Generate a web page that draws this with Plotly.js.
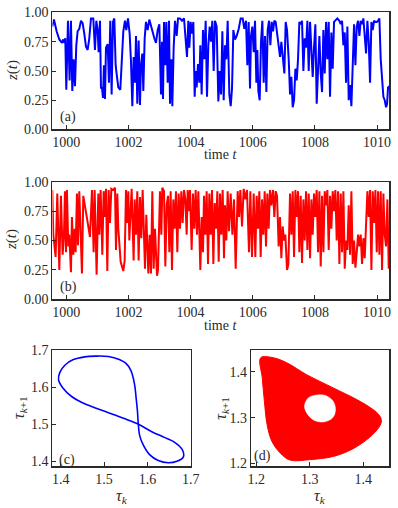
<!DOCTYPE html>
<html>
<head>
<meta charset="utf-8">
<script src="https://cdn.plot.ly/plotly-3.0.1.min.js"></script>
<style>
  html, body { margin: 0; padding: 0; background: #fff; }
  #fig { width: 398px; height: 508px; }
</style>
</head>
<body>
<div id="fig"></div>
<script>
// (a) z(t), first oscillator (local extrema)
var timeA = [999.549,999.603,999.689,999.775,999.861,999.903,999.936,999.968,1000.000,1000.054,
  1000.107,1000.150,1000.193,1000.236,1000.279,1000.322,1000.365,1000.418,1000.472,1000.526,
  1000.579,1000.633,1000.687,1000.740,1000.794,1000.869,1000.923,1000.966,1001.009,1001.041,
  1001.084,1001.116,1001.148,1001.180,1001.212,1001.245,1001.277,1001.331,1001.373,1001.416,
  1001.459,1001.502,1001.545,1001.588,1001.631,1001.674,1001.738,1001.792,1001.835,1001.888,
  1001.931,1001.985,1002.039,1002.082,1002.125,1002.167,1002.210,1002.243,1002.285,1002.328,
  1002.371,1002.404,1002.446,1002.479,1002.522,1002.564,1002.618,1002.672,1002.725,1002.779,
  1002.833,1002.886,1002.940,1002.994,1003.047,1003.080,1003.112,1003.144,1003.187,1003.219,
  1003.262,1003.305,1003.337,1003.380,1003.412,1003.455,1003.498,1003.552,1003.595,1003.659,
  1003.723,1003.788,1003.841,1003.884,1003.927,1003.959,1004.002,1004.045,1004.088,1004.131,
  1004.163,1004.195,1004.238,1004.281,1004.313,1004.356,1004.399,1004.442,1004.485,1004.528,
  1004.571,1004.614,1004.657,1004.700,1004.743,1004.786,1004.839,1004.893,1004.936,1004.979,
  1005.022,1005.065,1005.107,1005.150,1005.193,1005.247,1005.290,1005.333,1005.376,1005.429,
  1005.483,1005.547,1005.612,1005.676,1005.730,1005.783,1005.826,1005.869,1005.912,1005.944,
  1005.987,1006.030,1006.073,1006.116,1006.148,1006.180,1006.223,1006.266,1006.309,1006.352,
  1006.395,1006.438,1006.481,1006.524,1006.567,1006.610,1006.653,1006.696,1006.738,1006.792,
  1006.835,1006.878,1006.921,1006.975,1007.017,1007.060,1007.103,1007.157,1007.200,1007.243,
  1007.286,1007.329,1007.372,1007.414,1007.457,1007.500,1007.543,1007.586,1007.629,1007.672,
  1007.715,1007.758,1007.801,1007.844,1007.887,1007.929,1007.972,1008.015,1008.058,1008.101,
  1008.144,1008.187,1008.230,1008.273,1008.316,1008.359,1008.401,1008.444,1008.487,1008.530,
  1008.573,1008.616,1008.659,1008.723,1008.788,1008.831,1008.874,1008.917,1008.960,1009.002,
  1009.045,1009.088,1009.131,1009.174,1009.217,1009.260,1009.303,1009.346,1009.389,1009.432,
  1009.474,1009.517,1009.560,1009.603,1009.646,1009.689,1009.732,1009.775,1009.818,1009.861,
  1009.904,1009.947,1009.990,1010.033,1010.075,1010.118,1010.161,1010.204,1010.247,1010.290,
  1010.322,1010.354,1010.397];
var zA = [0.88,0.94,0.84,0.77,0.74,0.77,0.74,0.78,0.34,0.93,
  0.42,0.93,0.33,0.60,0.37,0.72,0.84,0.86,0.93,0.91,
  0.82,0.71,0.68,0.78,0.95,0.95,0.68,0.93,0.85,0.66,
  0.93,0.35,0.36,0.27,0.55,0.26,0.70,0.73,0.40,0.93,
  0.30,0.92,0.95,0.55,0.45,0.36,0.34,0.60,0.84,0.93,
  0.85,0.95,0.82,0.58,0.20,0.62,0.40,0.80,0.22,0.76,
  0.21,0.55,0.65,0.33,0.78,0.92,0.85,0.94,0.88,0.82,
  0.78,0.74,0.85,0.90,0.30,0.75,0.26,0.92,0.55,0.92,
  0.40,0.93,0.22,0.60,0.20,0.70,0.93,0.80,0.95,0.95,
  0.93,0.95,0.80,0.62,0.93,0.70,0.92,0.82,0.92,0.28,
  0.50,0.36,0.56,0.40,0.72,0.30,0.85,0.60,0.93,0.28,
  0.72,0.88,0.75,0.93,0.50,0.93,0.88,0.24,0.50,0.30,
  0.84,0.25,0.72,0.60,0.93,0.30,0.20,0.35,0.85,0.77,
  0.80,0.86,0.95,0.95,0.86,0.93,0.55,0.92,0.35,0.80,
  0.88,0.66,0.93,0.40,0.68,0.33,0.25,0.75,0.93,0.40,
  0.80,0.32,0.85,0.93,0.72,0.92,0.84,0.93,0.92,0.80,
  0.70,0.62,0.75,0.58,0.48,0.92,0.85,0.60,0.30,0.45,
  0.19,0.25,0.52,0.42,0.60,0.92,0.90,0.93,0.50,0.78,
  0.70,0.93,0.50,0.92,0.60,0.45,0.70,0.90,0.22,0.60,
  0.80,0.48,0.32,0.85,0.48,0.92,0.60,0.92,0.28,0.83,
  0.52,0.92,0.93,0.95,0.93,0.90,0.93,0.72,0.83,0.40,
  0.88,0.25,0.38,0.20,0.55,0.90,0.55,0.88,0.93,0.80,
  0.93,0.90,0.95,0.75,0.65,0.93,0.75,0.40,0.92,0.85,
  0.93,0.92,0.92,0.93,0.95,0.60,0.40,0.28,0.25,0.19,
  0.22,0.36,0.37];

// (b) z(t), second oscillator
var timeB = [999.549,999.582,999.657,999.710,999.775,999.828,999.882,999.925,999.957,999.989,
  1000.021,1000.064,1000.097,1000.150,1000.182,1000.225,1000.268,1000.300,1000.343,1000.376,
  1000.418,1000.504,1000.547,1000.633,1000.708,1000.762,1000.826,1000.880,1000.912,1000.976,
  1001.030,1001.062,1001.105,1001.159,1001.202,1001.245,1001.277,1001.320,1001.363,1001.406,
  1001.449,1001.513,1001.567,1001.599,1001.642,1001.674,1001.749,1001.835,1001.878,1001.921,
  1001.953,1001.996,1002.028,1002.103,1002.167,1002.200,1002.243,1002.285,1002.328,1002.371,
  1002.414,1002.457,1002.532,1002.575,1002.640,1002.683,1002.725,1002.768,1002.811,1002.854,
  1002.919,1002.951,1003.015,1003.058,1003.090,1003.144,1003.187,1003.230,1003.273,1003.316,
  1003.358,1003.401,1003.444,1003.487,1003.530,1003.573,1003.616,1003.659,1003.702,1003.745,
  1003.788,1003.831,1003.874,1003.906,1003.949,1003.981,1004.034,1004.077,1004.120,1004.163,
  1004.206,1004.249,1004.313,1004.356,1004.399,1004.431,1004.474,1004.517,1004.560,1004.603,
  1004.646,1004.689,1004.732,1004.775,1004.818,1004.861,1004.904,1004.947,1004.989,1005.032,
  1005.075,1005.107,1005.150,1005.193,1005.236,1005.290,1005.344,1005.397,1005.451,1005.515,
  1005.558,1005.601,1005.655,1005.708,1005.762,1005.815,1005.879,1005.922,1005.976,1006.030,
  1006.083,1006.126,1006.169,1006.212,1006.255,1006.298,1006.341,1006.384,1006.427,1006.469,
  1006.512,1006.555,1006.598,1006.652,1006.695,1006.738,1006.781,1006.834,1006.877,1006.920,
  1006.963,1007.006,1007.049,1007.103,1007.146,1007.200,1007.243,1007.286,1007.329,1007.372,
  1007.414,1007.457,1007.500,1007.543,1007.586,1007.629,1007.672,1007.715,1007.758,1007.801,
  1007.844,1007.887,1007.929,1007.972,1008.015,1008.058,1008.101,1008.144,1008.187,1008.230,
  1008.273,1008.316,1008.359,1008.401,1008.444,1008.487,1008.530,1008.573,1008.616,1008.659,
  1008.702,1008.745,1008.788,1008.831,1008.874,1008.917,1008.960,1009.002,1009.045,1009.088,
  1009.131,1009.174,1009.217,1009.260,1009.303,1009.346,1009.389,1009.432,1009.474,1009.517,
  1009.560,1009.603,1009.646,1009.689,1009.732,1009.775,1009.818,1009.861,1009.904,1009.947,
  1009.990,1010.033,1010.075,1010.118,1010.161,1010.204,1010.247,1010.290,1010.333,1010.376,
  1010.397];
var zB = [0.93,0.55,0.36,0.90,0.25,0.88,0.38,0.55,0.92,0.40,
  0.93,0.45,0.55,0.23,0.70,0.38,0.60,0.40,0.90,0.46,
  0.92,0.22,0.88,0.72,0.62,0.53,0.93,0.40,0.93,0.21,
  0.90,0.55,0.93,0.38,0.92,0.70,0.94,0.24,0.93,0.65,
  0.94,0.93,0.95,0.42,0.90,0.60,0.32,0.24,0.33,0.93,
  0.65,0.92,0.50,0.94,0.33,0.85,0.55,0.92,0.33,0.87,
  0.52,0.93,0.26,0.72,0.22,0.55,0.22,0.92,0.26,0.60,
  0.20,0.25,0.92,0.55,0.95,0.92,0.28,0.80,0.88,0.40,
  0.92,0.25,0.85,0.60,0.92,0.40,0.90,0.60,0.92,0.65,
  0.93,0.85,0.55,0.93,0.75,0.93,0.42,0.90,0.60,0.93,
  0.55,0.92,0.25,0.70,0.40,0.88,0.55,0.92,0.30,0.90,
  0.55,0.93,0.30,0.82,0.60,0.92,0.32,0.90,0.55,0.93,
  0.35,0.80,0.50,0.92,0.58,0.90,0.55,0.85,0.26,0.92,
  0.70,0.93,0.62,0.94,0.85,0.93,0.40,0.92,0.36,0.90,
  0.36,0.88,0.60,0.92,0.36,0.85,0.55,0.92,0.45,0.90,
  0.60,0.93,0.80,0.93,0.70,0.92,0.88,0.45,0.70,0.35,
  0.62,0.50,0.55,0.25,0.30,0.90,0.55,0.92,0.36,0.93,
  0.70,0.92,0.40,0.88,0.31,0.85,0.50,0.92,0.42,0.90,
  0.35,0.85,0.55,0.90,0.70,0.93,0.40,0.92,0.28,0.88,
  0.40,0.92,0.80,0.93,0.42,0.88,0.60,0.92,0.75,0.93,
  0.50,0.92,0.30,0.90,0.40,0.92,0.26,0.50,0.42,0.80,
  0.38,0.92,0.30,0.50,0.27,0.40,0.55,0.45,0.55,0.30,
  0.52,0.35,0.60,0.92,0.70,0.93,0.25,0.92,0.65,0.93,
  0.40,0.92,0.38,0.92,0.25,0.90,0.55,0.45,0.85,0.26,
  0.40];

// (c) return map tau_k -> tau_{k+1}, closed figure-eight
var tauC_k  = [1.579,1.582,1.590,1.605,1.625,1.648,1.668,1.683,1.680,1.662,1.640,1.610,1.579,1.545,
  1.513,1.480,1.450,1.425,1.405,1.395,1.398,1.410,1.428,1.455,1.480,1.510,1.535,1.550,1.562,1.570,
  1.574,1.577,1.579];
var tauC_k1 = [1.500,1.470,1.445,1.418,1.402,1.396,1.400,1.412,1.432,1.452,1.464,1.480,1.500,1.516,
  1.530,1.544,1.558,1.575,1.598,1.620,1.640,1.660,1.674,1.682,1.684,1.683,1.675,1.665,1.645,1.610,
  1.570,1.535,1.500];

// (d) return map, filled torus section: outer edge and inner hole
var tauD_out_k  = [1.208,1.232,1.257,1.294,1.344,1.387,1.418,1.430,1.434,1.430,1.412,1.381,1.344,
  1.300,1.263,1.245,1.229,1.220,1.215,1.211,1.208];
var tauD_out_k1 = [1.431,1.431,1.420,1.394,1.365,1.340,1.318,1.305,1.293,1.280,1.257,1.232,1.215,
  1.208,1.207,1.222,1.248,1.285,1.336,1.387,1.431];
var tauD_hole_k  = [1.290,1.297,1.310,1.328,1.343,1.348,1.343,1.328,1.310,1.296,1.290];
var tauD_hole_k1 = [1.325,1.343,1.349,1.349,1.337,1.318,1.300,1.291,1.293,1.307,1.325];

var serif = 'Liberation Serif';
var ink = '#2a2a2a';

function axis(extra) {
  var a = {
    showgrid: false, zeroline: false, showline: true, mirror: true,
    linecolor: ink, linewidth: 1.2,
    ticks: 'inside', ticklen: 4, tickwidth: 1, tickcolor: ink,
    tickfont: {family: serif, size: 14, color: ink}
  };
  for (var k in extra) a[k] = extra[k];
  return a;
}

var data = [
  {x: timeA, y: zA, xaxis: 'x', yaxis: 'y', type: 'scatter', mode: 'lines',
   line: {color: 'rgb(0,0,255)', width: 2}},
  {x: timeB, y: zB, xaxis: 'x2', yaxis: 'y2', type: 'scatter', mode: 'lines',
   line: {color: 'rgb(255,0,0)', width: 2}},
  {x: tauC_k, y: tauC_k1, xaxis: 'x3', yaxis: 'y3', type: 'scatter', mode: 'lines',
   line: {color: 'rgb(0,0,255)', width: 1.6, shape: 'spline'}},
  {x: tauD_out_k, y: tauD_out_k1, xaxis: 'x4', yaxis: 'y4', type: 'scatter', mode: 'lines',
   fill: 'toself', fillcolor: 'rgb(255,0,0)', line: {color: 'rgb(255,0,0)', width: 1, shape: 'spline'}},
  {x: tauD_hole_k, y: tauD_hole_k1, xaxis: 'x4', yaxis: 'y4', type: 'scatter', mode: 'lines',
   fill: 'toself', fillcolor: '#ffffff', line: {color: '#ffffff', width: 0.5, shape: 'spline'}}
];

function note(text, x, y, size, angle) {
  return {text: text, xref: 'paper', yref: 'paper', x: x, y: y, showarrow: false,
    xanchor: 'center', yanchor: 'middle', textangle: angle || 0,
    font: {family: serif, size: size, color: ink}};
}

var layout = {
  width: 398, height: 508,
  margin: {l: 0, r: 0, t: 0, b: 0},
  paper_bgcolor: '#fff', plot_bgcolor: '#fff',
  showlegend: false,
  font: {family: serif, size: 14, color: ink},
  xaxis: axis({domain: [0.1319, 0.9786], range: [999.556, 1010.40], tick0: 1000, dtick: 2, anchor: 'y'}),
  yaxis: axis({domain: [0.7451, 0.9754], range: [0, 1.0005], dtick: 0.25, tickformat: '.2f', anchor: 'x'}),
  xaxis2: axis({domain: [0.1319, 0.9786], range: [999.556, 1010.40], tick0: 1000, dtick: 2, anchor: 'y2'}),
  yaxis2: axis({domain: [0.4108, 0.6423], range: [0, 1.0005], dtick: 0.25, tickformat: '.2f', anchor: 'x2'}),
  xaxis3: axis({domain: [0.1319, 0.4799], range: [1.381, 1.7005], tick0: 1.4, dtick: 0.1, tickformat: '.1f', anchor: 'y3'}),
  yaxis3: axis({domain: [0.0817, 0.3110], range: [1.386, 1.7005], tick0: 1.4, dtick: 0.1, tickformat: '.1f', anchor: 'x3'}),
  xaxis4: axis({domain: [0.6307, 0.9786], range: [1.190, 1.449], tick0: 1.2, dtick: 0.1, tickformat: '.1f', anchor: 'y4'}),
  yaxis4: axis({domain: [0.0817, 0.3110], range: [1.193, 1.448], tick0: 1.2, dtick: 0.1, tickformat: '.1f', anchor: 'x4'}),
  annotations: [
    note('(a)', 0.1709, 0.7697, 14),
    note('(b)', 0.1709, 0.4350, 14),
    note('(c)', 0.1676, 0.0945, 14),
    note('(d)', 0.6608, 0.1024, 14),
    note('<i>z</i>(<i>t</i>)', 0.0302, 0.8602, 15, -90),
    note('<i>z</i>(<i>t</i>)', 0.0302, 0.5276, 15, -90),
    note('time <i>t</i>', 0.5528, 0.6949, 14),
    note('time <i>t</i>', 0.5528, 0.3602, 14),
    note('<i>τ</i><sub><i>k</i></sub>', 0.3058, 0.0217, 16),
    note('<i>τ</i><sub><i>k</i></sub>', 0.8040, 0.0217, 16),
    note('<i>τ</i><sub><i>k</i>+1</sub>', 0.0503, 0.1969, 16, -90),
    note('<i>τ</i><sub><i>k</i>+1</sub>', 0.5570, 0.1969, 16, -90)
  ]
};

Plotly.newPlot('fig', data, layout, {displayModeBar: false, staticPlot: true});
</script>
</body>
</html>
